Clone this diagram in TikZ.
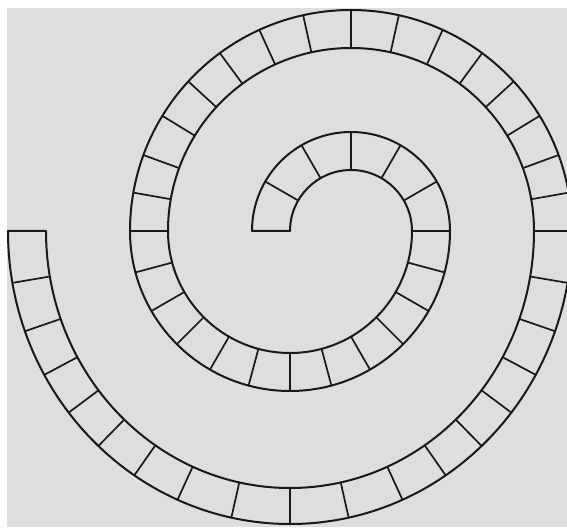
\documentclass[tikz,border=0pt]{standalone}
\usetikzlibrary{calc}
\tikzset{
  rim/.style  = {line width=2pt, draw=black!90, line join=round},
  bar/.style  = {line width=1.7pt, draw=black!90},
  page/.style = {fill=black!13},
}
\begin{document}
\begin{tikzpicture}[x=1pt,y=1pt]
  \useasboundingbox (-290,-296) rectangle (277,231);
  \fill[white] (-290,-296) rectangle (277,231);
  \fill[page] (-283,-296) rectangle (277,223);
  \coordinate (c2) at (0,0);
  \coordinate (c1) at (61,0);
  % track edges, inner end to outer end and back
  \draw[rim] (c2) arc[start angle=180, end angle=0, radius=61]
    arc[start angle=0, end angle=-180, radius=122]
    arc[start angle=180, end angle=0, radius=183]
    arc[start angle=0, end angle=-180, x radius=244, y radius=257]
    -- ++(-38,0)
    arc[start angle=-180, end angle=0, x radius=282, y radius=293]
    arc[start angle=0, end angle=180, radius=221]
    arc[start angle=-180, end angle=0, radius=160]
    arc[start angle=0, end angle=180, radius=99]
    -- cycle;
  % cell borders
  \foreach \a in {0,30,...,150}
    \draw[bar] ($(c1)+(\a:61)$) -- ($(c1)+(\a:99)$);
  \foreach \a in {-15,-30,...,-180}
    \draw[bar] ($(c2)+(\a:122)$) -- ($(c2)+(\a:160)$);
  \foreach \o in {0,12.5,24.5,36.4,47.4,58.6,69.9,80,90}{
    \draw[bar] ($(c1)+(90+\o:183)$) -- ($(c1)+(90+\o:221)$);
    \draw[bar] ($(c1)+(90-\o:183)$) -- ($(c1)+(90-\o:221)$);
  }
  \foreach \o in {0,12,23.5,33.5,42.8,51.7,60.6,70,79.8}{
    \draw[bar] ({244*cos(-90+\o)},{257*sin(-90+\o)}) -- ({282*cos(-90+\o)},{293*sin(-90+\o)});
    \draw[bar] ({244*cos(-90-\o)},{257*sin(-90-\o)}) -- ({282*cos(-90-\o)},{293*sin(-90-\o)});
  }
\end{tikzpicture}
\end{document}
